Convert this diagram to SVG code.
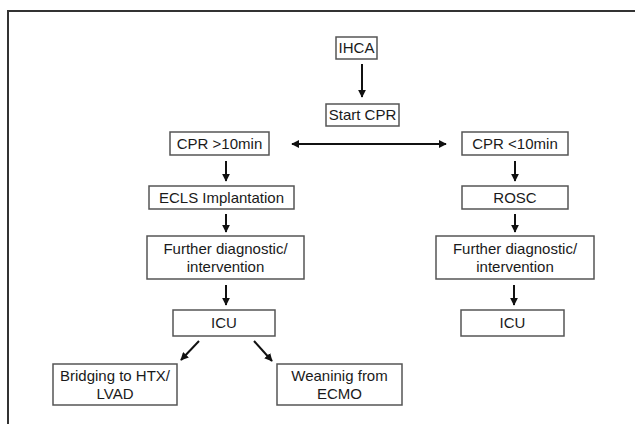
<svg xmlns="http://www.w3.org/2000/svg" width="635" height="424" viewBox="0 0 635 424">
<defs>
<marker id="ah" viewBox="0 0 10 10" refX="9" refY="5" markerWidth="4" markerHeight="4" orient="auto-start-reverse" markerUnits="strokeWidth">
<path d="M0,0 L10,5 L0,10 z" fill="#111"/>
</marker>
<style>
.box{fill:#fff;stroke:#555;stroke-width:1.5}
.t{font-family:"Liberation Sans",Arial,sans-serif;font-size:15px;fill:#1a1a1a;text-anchor:middle}
.c{stroke:#111;stroke-width:2;fill:none;marker-end:url(#ah)}
</style>
</defs>
<rect width="635" height="424" fill="#fff"/>
<path d="M8,424 V11 H635" fill="none" stroke="#333" stroke-width="2"/>
<g id="ihca"><rect class="box" x="336" y="37" width="41" height="22"/><text class="t" x="356.5" y="53">IHCA</text></g>
<g id="start"><rect class="box" x="326" y="104" width="73" height="22"/><text class="t" x="362.5" y="120">Start CPR</text></g>
<g id="cprgt"><rect class="box" x="170" y="132" width="99" height="23"/><text class="t" x="219.5" y="149">CPR &gt;10min</text></g>
<g id="cprlt"><rect class="box" x="462" y="132" width="106" height="23"/><text class="t" x="515" y="149">CPR &lt;10min</text></g>
<g id="ecls"><rect class="box" x="149" y="186" width="145" height="23"/><text class="t" x="221.5" y="203">ECLS Implantation</text></g>
<g id="rosc"><rect class="box" x="462" y="186" width="106" height="23"/><text class="t" x="515" y="203">ROSC</text></g>
<g id="furtherL"><rect class="box" x="147" y="236" width="157" height="43"/><text class="t" x="225.5" y="254">Further diagnostic/</text><text class="t" x="225.5" y="272">intervention</text></g>
<g id="furtherR"><rect class="box" x="436" y="236" width="158" height="43"/><text class="t" x="515" y="254">Further diagnostic/</text><text class="t" x="515" y="272">intervention</text></g>
<g id="icuL"><rect class="box" x="173" y="310" width="102" height="26"/><text class="t" x="224" y="328">ICU</text></g>
<g id="icuR"><rect class="box" x="461" y="310" width="103" height="26"/><text class="t" x="512.5" y="328">ICU</text></g>
<g id="bridging"><rect class="box" x="53" y="364" width="124" height="41"/><text class="t" x="115" y="381">Bridging to HTX/</text><text class="t" x="115" y="399">LVAD</text></g>
<g id="weaning"><rect class="box" x="277" y="364" width="125" height="41"/><text class="t" x="339.5" y="381">Weaninig from</text><text class="t" x="339.5" y="399">ECMO</text></g>
<g id="connectors">
<line class="c" x1="362" y1="64" x2="362" y2="97"/>
<line class="c" x1="292" y1="144" x2="446" y2="144" style="marker-start:url(#ah)"/>
<line class="c" x1="226" y1="161" x2="226" y2="181"/>
<line class="c" x1="515" y1="161" x2="515" y2="181"/>
<line class="c" x1="226" y1="214" x2="226" y2="232"/>
<line class="c" x1="515" y1="214" x2="515" y2="232"/>
<line class="c" x1="226" y1="285" x2="226" y2="305"/>
<line class="c" x1="514" y1="285" x2="514" y2="305"/>
<line class="c" x1="199" y1="341" x2="181" y2="360"/>
<line class="c" x1="254" y1="341" x2="272" y2="361"/>
</g>
</svg>
